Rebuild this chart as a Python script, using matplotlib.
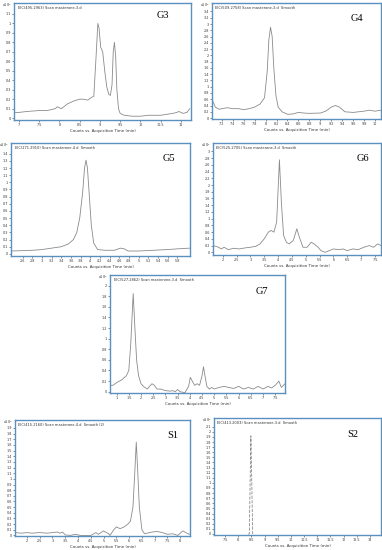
import matplotlib as mpl
mpl.use('Agg')
import matplotlib.pyplot as plt
import numpy as np

#
#--- chromatogram data (retention time in min, counts x10^5)
#
g3_t = [6.88, 7.0, 7.2, 7.5, 7.7, 7.9, 7.95, 8.05, 8.2, 8.35, 8.5, 8.6, 8.7, 8.8, 8.85,
        8.9, 8.95, 8.98, 9.02, 9.07, 9.12, 9.17, 9.22, 9.26, 9.3, 9.33, 9.36, 9.39, 9.42,
        9.46, 9.5, 9.6, 9.8, 10.0, 10.2, 10.5, 10.8, 10.9, 10.95, 11.05, 11.15, 11.22]
g3_y = [0.06, 0.06, 0.07, 0.08, 0.08, 0.1, 0.12, 0.1, 0.15, 0.18, 0.2, 0.2, 0.19, 0.22, 0.23,
        0.6, 1.0, 0.95, 0.75, 0.7, 0.5, 0.33, 0.25, 0.24, 0.35, 0.7, 0.8, 0.65, 0.3,
        0.1, 0.05, 0.03, 0.02, 0.02, 0.03, 0.03, 0.05, 0.06, 0.07, 0.05, 0.06, 0.1]

g4_t = [7.02, 7.08, 7.15, 7.2, 7.3, 7.4, 7.5, 7.6, 7.7, 7.8, 7.9, 7.98, 8.03, 8.06, 8.09,
        8.12, 8.15, 8.19, 8.23, 8.3, 8.4, 8.5, 8.6, 8.7, 8.8, 9.0, 9.1, 9.2, 9.28,
        9.35, 9.45, 9.6, 9.7, 9.8, 9.9, 10.0, 10.11]
g4_y = [0.6, 0.35, 0.28, 0.3, 0.33, 0.3, 0.3, 0.27, 0.3, 0.35, 0.45, 0.65, 1.5, 2.5, 2.9,
        2.6, 1.6, 0.7, 0.35, 0.2, 0.12, 0.13, 0.18, 0.16, 0.15, 0.16, 0.22, 0.35, 0.4,
        0.35, 0.2, 0.18, 0.2, 0.22, 0.25, 0.22, 0.25]

g5_t = [2.36, 2.6, 2.8, 3.0, 3.2, 3.4, 3.55, 3.65, 3.72, 3.78, 3.84, 3.88, 3.91, 3.94,
        3.98, 4.02, 4.07, 4.15, 4.3, 4.5, 4.62, 4.7, 4.78, 5.0, 5.3, 5.6, 5.8, 6.06]
g5_y = [0.04, 0.045, 0.05, 0.06, 0.08, 0.1, 0.14, 0.2, 0.3, 0.5, 0.85, 1.2, 1.31, 1.2,
        0.8, 0.4, 0.15, 0.06, 0.05, 0.05, 0.08, 0.07, 0.04, 0.04, 0.05, 0.06, 0.07, 0.08]

g6_t = [1.65, 1.75, 1.85, 1.95, 2.05, 2.2, 2.4, 2.6, 2.8, 3.0, 3.2, 3.35, 3.5, 3.65, 3.75,
        3.85, 3.95, 4.05, 4.12, 4.2, 4.3, 4.4, 4.55, 4.68, 4.75, 4.9, 5.05, 5.2, 5.3,
        5.45, 5.55, 5.7, 5.85, 6.0, 6.2, 6.35, 6.5, 6.7, 6.9, 7.1, 7.3, 7.45, 7.6, 7.72]
g6_y = [0.2, 0.18, 0.15, 0.1, 0.15, 0.08, 0.12, 0.1, 0.13, 0.15, 0.18, 0.25, 0.4, 0.6, 0.65,
        0.6, 0.9, 2.75, 1.5, 0.5, 0.3, 0.25, 0.35, 0.7, 0.5, 0.15, 0.15, 0.3, 0.25,
        0.15, 0.05, 0.0, 0.05, 0.1, 0.08, 0.1, 0.05, 0.1, 0.08, 0.15, 0.2, 0.15, 0.25, 0.2]

g7_t = [0.73, 0.85, 1.0, 1.2, 1.4, 1.5, 1.58, 1.68, 1.75, 1.82, 1.9, 2.0, 2.1, 2.25, 2.35,
        2.45, 2.55, 2.65, 2.8, 3.0, 3.2, 3.3, 3.4, 3.5, 3.6, 3.8, 3.95, 4.02, 4.1, 4.2,
        4.3, 4.4, 4.5, 4.56, 4.62, 4.7, 4.8, 4.9, 5.0, 5.2, 5.4, 5.6, 5.8, 6.0, 6.2,
        6.4, 6.6, 6.8, 7.0, 7.2, 7.35, 7.5, 7.65, 7.75, 7.9]
g7_y = [0.12, 0.12, 0.17, 0.22, 0.3, 0.4, 0.9, 1.85, 1.2, 0.6, 0.3, 0.15, 0.1, 0.05, 0.1,
        0.15, 0.12, 0.05, 0.05, 0.02, 0.01, 0.02, 0.0, 0.04, 0.0, -0.02, 0.1, 0.27, 0.2, 0.12,
        0.15, 0.12, 0.3, 0.47, 0.3, 0.1, 0.05, 0.08, 0.05, 0.08, 0.1, 0.08, 0.06, 0.1, 0.05,
        0.08, 0.05, 0.1, 0.05, 0.1, 0.07, 0.12, 0.2, 0.08, 0.15]

s1_t = [1.54, 1.8, 2.0, 2.2, 2.5, 2.8, 3.0, 3.2, 3.3, 3.4, 3.5, 3.7, 3.9, 4.1, 4.5, 4.7,
        4.8, 5.0, 5.2, 5.25, 5.4, 5.5, 5.65, 5.8, 5.95, 6.05, 6.15, 6.22, 6.28, 6.33,
        6.4, 6.5, 6.6, 6.9, 7.1, 7.3, 7.5, 7.7, 7.9, 8.1, 8.3, 8.38]
s1_y = [0.05, 0.04, 0.05, 0.04, 0.05, 0.04, 0.05, 0.06, 0.04, 0.06, 0.01, 0.0, 0.02, 0.0, 0.0, 0.05,
        0.02, 0.08, 0.03, 0.0, 0.1, 0.15, 0.12, 0.15, 0.2, 0.25, 0.5, 1.1, 1.65, 1.2,
        0.5, 0.1, 0.03, 0.06, 0.07, 0.05, 0.02, 0.03, 0.0, 0.08, 0.03, 0.02]

s2_t = [8.38, 8.42, 8.48, 8.55, 8.6]
s2_y = [0.0, 0.0, 1.92, 0.0, 0.0]

#
#--- panel definitions: name, EIC text, data, x range, y range, ticks, frame box (pixels)
#
panels = [
    ['G3', 'EIC(495.2963) Scan masterone-3.d', g3_t, g3_y,
     (6.88, 11.25), (-0.02, 1.216), np.arange(7, 11.01, 0.5), np.arange(0, 1.11, 0.1),
     (14, 3, 191, 120), (0.84, 0.89)],
    ['G4', 'EIC(509.2758) Scan masterone-3.d  Smooth', g4_t, g4_y,
     (7.02, 10.11), (-0.03, 3.67), np.arange(7.2, 10.01, 0.2), np.arange(0, 3.41, 0.2),
     (212, 3, 381, 119), (0.86, 0.87)],
    ['G5', 'EIC(271.2910) Scan masterone-4.d  Smooth', g5_t, g5_y,
     (2.36, 6.06), (-0.03, 1.55), np.arange(2.6, 5.81, 0.2), np.arange(0, 1.41, 0.1),
     (11, 143, 190, 256), (0.88, 0.86)],
    ['G6', 'EIC(525.2705) Scan masterone-3.d  Smooth', g6_t, g6_y,
     (1.65, 7.72), (-0.08, 3.25), np.arange(2, 7.51, 0.5), np.arange(0, 3.01, 0.2),
     (213, 143, 381, 255), (0.89, 0.86)],
    ['G7', 'EIC(527.2862) Scan masterone-3.d  Smooth', g7_t, g7_y,
     (0.73, 7.9), (-0.025, 2.2), np.arange(1, 7.51, 0.5), np.arange(0, 2.01, 0.2),
     (110, 275, 285, 393), (0.87, 0.86)],
    ['S1', 'EIC(415.2160) Scan masterone-4.d  Smooth (2)', s1_t, s1_y,
     (1.54, 8.38), (-0.01, 2.04), np.arange(2, 8.01, 0.5), np.arange(0, 1.91, 0.1),
     (15, 420, 190, 536), (0.90, 0.87)],
    ['S2', 'EIC(413.2003) Scan masterone-3.d  Smooth', s2_t, s2_y,
     (7.08, 13.42), (-0.02, 2.27), np.arange(7.5, 13.01, 0.5), np.arange(0, 2.11, 0.1),
     (214, 418, 381, 535), (0.83, 0.86)],
]

frame_col = '#5b8fc0'
line_col  = '#8a8a8a'
W, H      = 382.0, 550.0


def fmt(v):
    s = '%.1f' % v
    if s.endswith('.0'):
        s = s[:-2]
    return s

#--------------------------------------------------------------------
#-- build figure
#--------------------------------------------------------------------

fig = plt.figure(figsize=(3.82, 5.5), dpi=100)
fig.patch.set_facecolor('white')

for ent in panels:
    name, eic, tx, ty, xr, yr, xt, yt, box, lpos = ent
    l, t, r, b = box
    ax = fig.add_axes([l / W, 1 - b / H, (r - l) / W, (b - t) / H])
#
#--- trace
#
    ls = '--' if name == 'S2' else '-'
    ax.plot(tx, ty, color=line_col, lw=0.6, ls=ls)

    ax.set_xlim(xr)
    ax.set_ylim(yr)
    ax.set_xticks(xt)
    ax.set_xticklabels([fmt(v) for v in xt])
    ax.set_yticks(yt)
    ax.set_yticklabels([fmt(v) for v in yt])
    ax.tick_params(labelsize=2.4, length=1.2, width=0.4, pad=1.2,
                   colors='#333333', direction='out')
    for sp in ax.spines.values():
        sp.set_color(frame_col)
        sp.set_linewidth(1.0)
#
#--- labels
#
    ax.set_xlabel('Counts vs. Acquisition Time (min)', fontsize=2.8, labelpad=1.0,
                  color='#333333')
    ax.text(0.02, 0.975, eic, transform=ax.transAxes, fontsize=2.6,
            ha='left', va='top', color='#333333')
    ax.text(-0.012, 1.012, r'x10$^{5}$', transform=ax.transAxes, fontsize=2.4,
            ha='right', va='top', color='#333333')
    ax.text(lpos[0], lpos[1], name, transform=ax.transAxes, fontsize=7.5,
            family='Liberation Serif', ha='center', va='center', color='black')

plt.savefig('out.png', format='png', dpi=100)
plt.close('all')
